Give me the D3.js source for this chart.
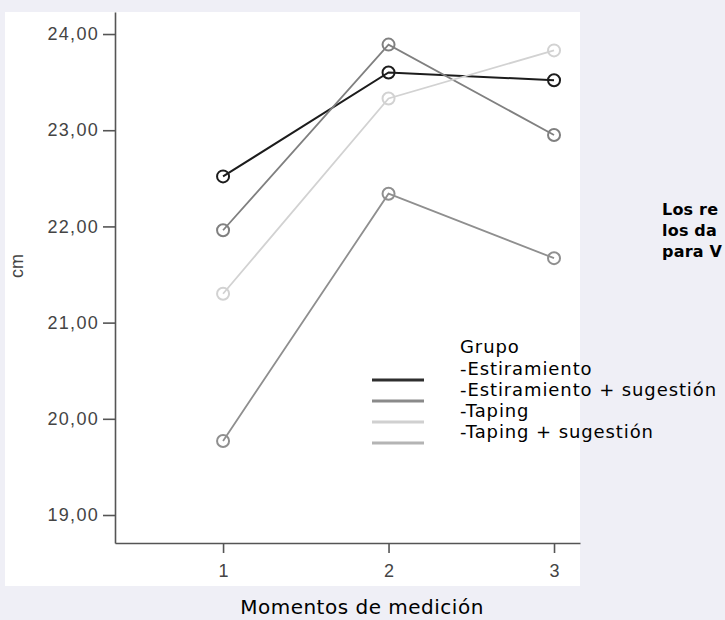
<!DOCTYPE html>
<html>
<head>
<meta charset="utf-8">
<script src="https://cdnjs.cloudflare.com/ajax/libs/d3/7.8.5/d3.min.js"></script>
<style>
  body { margin: 0; background: #efeff6; overflow: hidden; }
  .tick text { font-family: "Liberation Sans", Arial, sans-serif; fill: #444; }
</style>
</head>
<body>
<div id="chart"></div>
<script>
// data
var moments = [1, 2, 3];
var groups = ["Estiramiento", "Estiramiento + sugestión", "Taping", "Taping + sugestión"];
var estiramiento = [22.52, 23.60, 23.52];
var estiramientoSug = [21.96, 23.89, 22.95];
var taping = [21.30, 23.33, 23.83];
var tapingSug = [19.77, 22.34, 21.67];
var yTicks = [19, 20, 21, 22, 23, 24];
var sideText = ["Los re", "los da", "para V"];

var series = [
  {name: groups[0], values: estiramiento, color: "#1c1c1c", legend: "#2e2e2e", width: 2},
  {name: groups[1], values: estiramientoSug, color: "#808080", legend: "#8a8a8a", width: 1.8},
  {name: groups[3], values: tapingSug, color: "#8f8f8f", legend: "#b4b4b4", width: 1.8},
  {name: groups[2], values: taping, color: "#d2d2d2", legend: "#d0d0d0", width: 1.8}
];

var width = 725, height = 620;

var svg = d3.select("#chart")
  .append("svg")
  .attr("width", width)
  .attr("height", height);

// white "scanned" panel
svg.append("rect")
  .attr("x", 5).attr("y", 12)
  .attr("width", 575).attr("height", 574)
  .attr("fill", "#ffffff");

var x = d3.scaleLinear().domain([0.347, 3.157]).range([115, 580]);
var y = d3.scaleLinear().domain([18.709, 24.229]).range([543, 12]);

var yAxis = svg.append("g")
  .attr("transform", "translate(115,0)")
  .call(d3.axisLeft(y).tickValues(yTicks).tickSize(12).tickSizeOuter(0).tickPadding(4)
    .tickFormat(function(d) { return d3.format(".2f")(d).replace(".", ","); }));
yAxis.selectAll("text").style("font-size", "18px").style("letter-spacing", "1.3px");

var xAxis = svg.append("g")
  .attr("transform", "translate(0,543)")
  .call(d3.axisBottom(x).tickValues(moments).tickSize(10).tickSizeOuter(0).tickPadding(11)
    .tickFormat(d3.format("d")));
xAxis.selectAll("text").style("font-size", "18px");

svg.selectAll(".domain, .tick line")
  .attr("stroke", "#555").attr("stroke-width", 1.6);

svg.append("text")
  .attr("transform", "translate(23,266) rotate(-90)")
  .attr("text-anchor", "middle")
  .style("font-family", "Liberation Sans, Arial, sans-serif")
  .style("font-size", "18px").style("fill", "#444")
  .text("cm");

// lines + circles
var line = d3.line()
  .x(function(d, i) { return x(moments[i]); })
  .y(function(d) { return y(d); });

series.forEach(function(s) {
  svg.append("path")
    .datum(s.values)
    .attr("d", line)
    .attr("fill", "none")
    .attr("stroke", s.color)
    .attr("stroke-width", s.width);
  svg.selectAll(null)
    .data(s.values)
    .enter().append("circle")
    .attr("cx", function(d, i) { return x(moments[i]); })
    .attr("cy", function(d) { return y(d); })
    .attr("r", 6)
    .attr("fill", "none")
    .attr("stroke", s.color)
    .attr("stroke-width", 2);
});

// legend
var legend = svg.append("g")
  .style("font-family", "DejaVu Sans, sans-serif")
  .style("font-size", "18px").style("letter-spacing", "0.9px");
legend.append("text").attr("x", 460).attr("y", 353).text("Grupo");
var legendOrder = [series[0], series[1], series[3], series[2]];
legendOrder.forEach(function(s, i) {
  legend.append("text").attr("x", 460).attr("y", 375 + i * 21).text("-" + s.name);
  legend.append("line")
    .attr("x1", 372).attr("x2", 424)
    .attr("y1", 380 + i * 21).attr("y2", 380 + i * 21)
    .attr("stroke", s.legend).attr("stroke-width", 3);
});

svg.append("text")
  .attr("x", 362).attr("y", 614)
  .attr("text-anchor", "middle")
  .style("font-family", "DejaVu Sans, sans-serif").style("font-size", "20px")
  .style("letter-spacing", "0.5px")
  .text("Momentos de medición");

svg.selectAll(null)
  .data(sideText)
  .enter().append("text")
  .attr("x", 662)
  .attr("y", function(d, i) { return 215 + i * 21; })
  .style("font-family", "DejaVu Sans, sans-serif").style("font-weight", "bold")
  .style("font-size", "16px").style("letter-spacing", "0.2px")
  .text(function(d) { return d; });
</script>
</body>
</html>
